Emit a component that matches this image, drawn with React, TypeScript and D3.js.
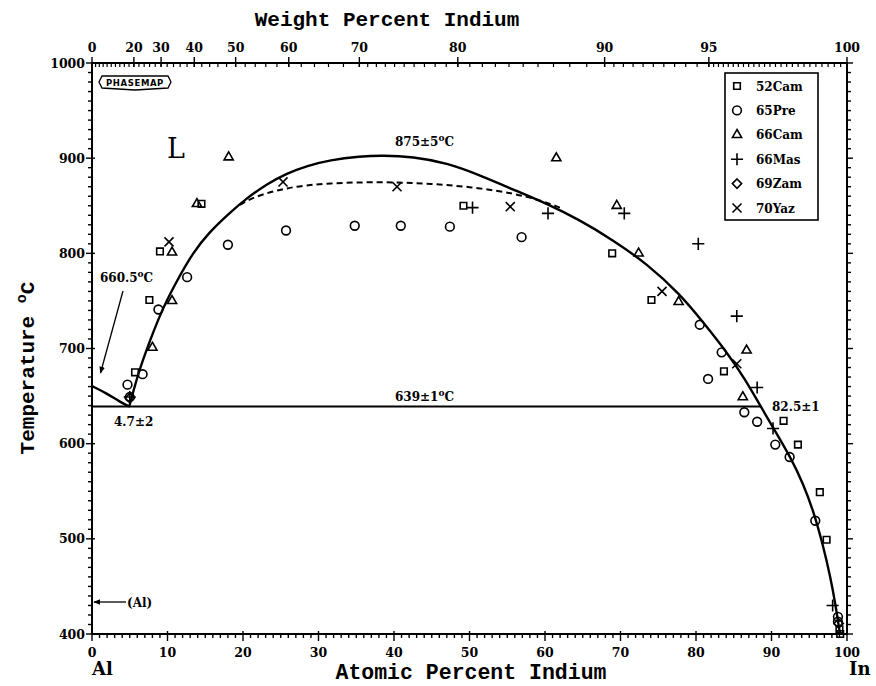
import React from "react";
import * as d3 from "d3";

const W = 876;
const H = 686;

// ---------- axis definitions ----------
const atomicTicks = [0, 10, 20, 30, 40, 50, 60, 70, 80, 90, 100];
const weightTickLabels = [0, 20, 30, 40, 50, 60, 70, 80, 90, 95, 100];
const tempTicks = [400, 500, 600, 700, 800, 900, 1000];

// ---------- curves (atomic % In, °C) ----------
const liquidusAl = [
  [0, 660.5], [1.9, 653], [3.6, 644.5], [4.9, 639],
];
const liquidusMain = [
  [4.9, 639], [4.95, 639], [6.1, 674], [7.7, 709], [9.4, 743], [11.3, 772], [13.4, 801],
  [15.5, 822], [18.3, 843], [20.5, 858], [23.2, 873], [25.8, 884], [28.5, 892],
  [31.5, 898], [35.5, 902], [38.5, 903], [42.5, 901.5], [47.0, 895], [51.4, 882],
  [55.8, 867], [60.3, 852], [64.6, 835], [69.0, 814], [73.5, 789], [77.9, 757],
  [81.0, 727], [84.0, 697], [86.5, 668], [88.5, 640], [90.5, 613], [92.5, 586],
  [94.2, 558], [95.6, 528], [96.8, 494], [97.8, 460], [98.5, 430], [99.0, 403],
  [99.1, 400], [99.1, 400],
];
const liquidusDashed = [
  [19.6, 851], [21.3, 859], [25.8, 869.5], [31.5, 874], [38.1, 875], [42.5, 874],
  [47.0, 872], [51.4, 868.5], [55.8, 863], [59.3, 856], [62.0, 848],
];
const monotectic = [[0, 639], [88.5, 639]];

// ---------- experimental data ----------
const cam52 = [
  [9.0, 802], [7.6, 751], [5.7, 675], [14.5, 852], [49.2, 850], [68.9, 800],
  [74.1, 751], [83.7, 676], [91.6, 624], [93.5, 599], [96.4, 549], [97.3, 499],
  [99.0, 405], [99.1, 400],
];
const pre65 = [
  [18.0, 809], [12.6, 775], [8.8, 741], [6.7, 673], [4.7, 662], [5.0, 649],
  [25.7, 824], [34.8, 829], [40.9, 829], [47.4, 828], [56.9, 817], [80.5, 725],
  [83.4, 696], [81.6, 668], [86.4, 633], [88.1, 623], [90.5, 599], [92.4, 586],
  [95.8, 519], [98.8, 418], [98.8, 413],
];
const cam66 = [
  [18.1, 901], [13.9, 852], [10.6, 801], [10.6, 750], [8.0, 701], [61.5, 900],
  [69.5, 850], [72.4, 800], [77.7, 749], [86.7, 698], [86.2, 649],
];
const mas66 = [
  [5.0, 649], [50.4, 848], [60.4, 842], [70.5, 842], [80.3, 810], [85.4, 734],
  [88.1, 659], [90.2, 616], [98.1, 430],
];
const zam69 = [[5.0, 648], [98.9, 411]];
const yaz70 = [
  [10.2, 812], [25.3, 875], [40.4, 870], [55.4, 849], [75.5, 760], [85.4, 684],
];

const seriesNames = ["52Cam", "65Pre", "66Cam", "66Mas", "69Zam", "70Yaz"];

const x = d3.scaleLinear().domain([0, 100]).range([92, 847]);
const y = d3.scaleLinear().domain([400, 1000]).range([634, 63]);

const wtToAt = (w: number) => {
  const a = w / 114.82;
  const b = (100 - w) / 26.98;
  return (a / (a + b)) * 100;
};

const symbolTypes = [
  d3.symbolSquare2, d3.symbolCircle, d3.symbolTriangle2,
  d3.symbolPlus, d3.symbolDiamond2, d3.symbolTimes,
];
const symbolSizes = [55, 60, 60, 50, 55, 55];
const seriesData = [cam52, pre65, cam66, mas66, zam69, yaz70];

const sym = (i: number) => d3.symbol().type(symbolTypes[i]).size(symbolSizes[i])() as string;

const line = d3.line<number[]>()
  .x((d) => x(d[0]))
  .y((d) => y(d[1]))
  .curve(d3.curveBasis);
const straight = d3.line<number[]>().x((d) => x(d[0])).y((d) => y(d[1]));

const tickFont = "'DejaVu Serif', serif";
const titleFont = "'Liberation Mono', monospace";

export default function App() {
  const tempMinor = d3.range(400, 1001, 10);
  const atMinor = d3.range(0, 101, 1);
  const wtMinor = [
    ...d3.range(0, 70, 2),
    ...d3.range(70, 90, 1),
    ...d3.range(90, 95, 0.5),
    ...d3.range(95, 100, 0.2),
  ];
  const x0 = x(0), x1 = x(100), yT = y(1000), yB = y(400);

  return (
    <div style={{ position: "absolute", left: 0, top: 0 }}>
      <svg width={W} height={H} viewBox={`0 0 ${W} ${H}`} style={{ display: "block", background: "#fff" }}>
        <defs>
          <marker id="ah" viewBox="0 0 10 10" refX="9" refY="5" markerWidth="7" markerHeight="7" orient="auto-start-reverse" markerUnits="userSpaceOnUse">
            <path d="M0,1 L10,5 L0,9 Z" fill="#000" />
          </marker>
        </defs>

        {/* frame */}
        <rect x={x0} y={yT} width={x1 - x0} height={yB - yT} fill="none" stroke="#000" strokeWidth={2} />

        {/* left & right ticks */}
        {tempMinor.map((t) => {
          const major = t % 100 === 0;
          return (
            <g key={"t" + t}>
              <line x1={x0 - (major ? 6 : 4)} x2={x0 + (major ? 3 : 0)} y1={y(t)} y2={y(t)} stroke="#000" strokeWidth={1.4} />
              <line x1={x1} x2={x1 + (major ? 6 : 4)} y1={y(t)} y2={y(t)} stroke="#000" strokeWidth={1.4} />
            </g>
          );
        })}
        {tempTicks.map((t) => (
          <text key={"tl" + t} x={x0 - 7} y={y(t) + 4.5} textAnchor="end" fontFamily={tickFont} fontWeight="bold" fontSize={12.5}>{t}</text>
        ))}

        {/* bottom ticks */}
        {atMinor.map((a) => {
          const major = a % 10 === 0;
          return <line key={"a" + a} x1={x(a)} x2={x(a)} y1={yB - (major ? 3 : 0)} y2={yB + (major ? 7 : 4)} stroke="#000" strokeWidth={1.4} />;
        })}
        {atomicTicks.map((a) => (
          <text key={"al" + a} x={x(a)} y={657} textAnchor="middle" fontFamily={tickFont} fontWeight="bold" fontSize={12.5}>{a}</text>
        ))}

        {/* top ticks */}
        {wtMinor.map((w, i) => (
          <line key={"w" + i} x1={x(wtToAt(w))} x2={x(wtToAt(w))} y1={yT} y2={yT + 4} stroke="#000" strokeWidth={1.2} />
        ))}
        {weightTickLabels.map((w) => (
          <g key={"wl" + w}>
            <line x1={x(wtToAt(w))} x2={x(wtToAt(w))} y1={yT - 6} y2={yT + 4} stroke="#000" strokeWidth={1.4} />
            <text x={x(wtToAt(w))} y={52} textAnchor="middle" fontFamily={tickFont} fontWeight="bold" fontSize={12.5}>{w}</text>
          </g>
        ))}

        {/* titles */}
        <text x={387} y={26} textAnchor="middle" fontFamily={titleFont} fontWeight="bold" fontSize={21}>Weight Percent Indium</text>
        <text x={471} y={679} textAnchor="middle" fontFamily={titleFont} fontWeight="bold" fontSize={21.5}>Atomic Percent Indium</text>
        <text transform="translate(34,368) rotate(-90)" textAnchor="middle" fontFamily={titleFont} fontWeight="bold" fontSize={21}>
          Temperature <tspan fontSize={15} dy={-8}>o</tspan><tspan dy={8}>C</tspan>
        </text>
        <text x={92} y={675} fontFamily={tickFont} fontWeight="bold" fontSize={18}>Al</text>
        <text x={849} y={675} fontFamily={tickFont} fontWeight="bold" fontSize={18}>In</text>

        {/* PHASEMAP logo */}
        <path d="M102,76 L168,76 L171,82 L168,88 L135,90 L102,88 L99,82 Z" fill="#fff" stroke="#000" strokeWidth={1.3} />
        <text x={135} y={86} textAnchor="middle" fontFamily="'DejaVu Sans', sans-serif" fontWeight="bold" fontSize={8.5} letterSpacing={0.6}>PHASEMAP</text>

        {/* L */}
        <text x={167} y={158} fontFamily="'DejaVu Serif', serif" fontSize={27}>L</text>

        {/* phase boundaries */}
        <path d={straight(monotectic) as string} fill="none" stroke="#000" strokeWidth={2} />
        <path d={line(liquidusAl) as string} fill="none" stroke="#000" strokeWidth={2.4} />
        <path d={line(liquidusMain) as string} fill="none" stroke="#000" strokeWidth={2.4} />
        <path d={line(liquidusDashed) as string} fill="none" stroke="#000" strokeWidth={2} strokeDasharray="6,4" />

        {/* annotations */}
        <text x={395} y={146} fontFamily={tickFont} fontWeight="bold" fontSize={12}>875±5<tspan fontSize={9} dy={-5}>o</tspan><tspan dy={5}>C</tspan></text>
        <text x={395} y={401} fontFamily={tickFont} fontWeight="bold" fontSize={12}>639±1<tspan fontSize={9} dy={-5}>o</tspan><tspan dy={5}>C</tspan></text>
        <text x={100} y={282} fontFamily={tickFont} fontWeight="bold" fontSize={12}>660.5<tspan fontSize={9} dy={-5}>o</tspan><tspan dy={5}>C</tspan></text>
        <text x={114} y={426} fontFamily={tickFont} fontWeight="bold" fontSize={12}>4.7±2</text>
        <text x={772} y={411} fontFamily={tickFont} fontWeight="bold" fontSize={12}>82.5±1</text>
        <text x={127} y={607} fontFamily={tickFont} fontWeight="bold" fontSize={12}>(Al)</text>
        <line x1={123} y1={291} x2={100.5} y2={373} stroke="#000" strokeWidth={1.3} markerEnd="url(#ah)" />
        <line x1={126} y1={602} x2={94} y2={602} stroke="#000" strokeWidth={1.3} markerEnd="url(#ah)" />

        {/* data points */}
        {seriesData.map((ds, i) => (
          <g key={"s" + i}>
            {ds.map((d, j) => (
              <path key={j} d={sym(i)} transform={`translate(${x(d[0])},${y(d[1])})`} fill="none" stroke="#000" strokeWidth={1.6} />
            ))}
          </g>
        ))}

        {/* legend */}
        <rect x={725} y={73} width={93} height={147} fill="#fff" stroke="#000" strokeWidth={1.6} />
        {seriesNames.map((n, i) => {
          const yy = 86 + i * 24.4;
          return (
            <g key={"lg" + i}>
              <path d={sym(i)} transform={`translate(737,${yy})`} fill="none" stroke="#000" strokeWidth={1.6} />
              <text x={756} y={yy + 4.5} fontFamily={tickFont} fontWeight="bold" fontSize={12}>{n}</text>
            </g>
          );
        })}
      </svg>
    </div>
  );
}
